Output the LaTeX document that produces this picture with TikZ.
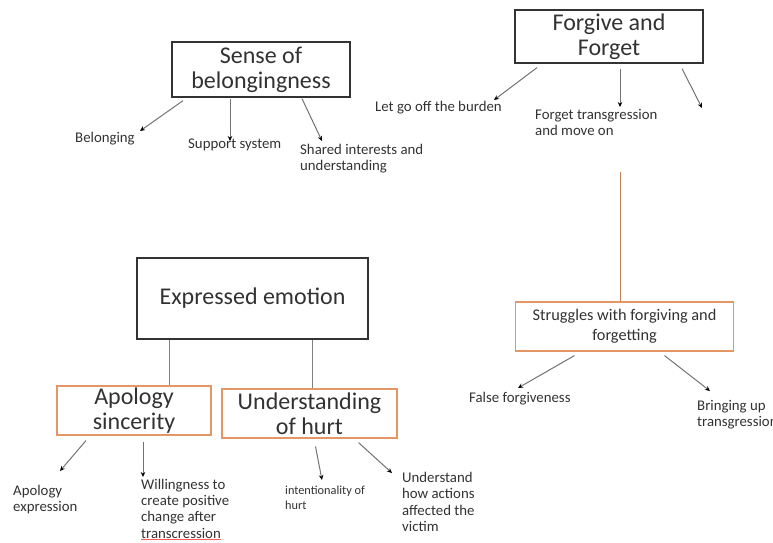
\documentclass[tikz,border=0pt]{standalone}
\usepackage{fontspec}
\setmainfont{Carlito}
\usetikzlibrary{arrows.meta}

\definecolor{boxorange}{RGB}{228,150,100}
\definecolor{textgray}{RGB}{50,50,50}
\newcommand{\spellmark}[1]{\begingroup\setbox0\hbox{#1}%
  \rlap{\color{red!65}\rule[-2pt]{\wd0}{0.7pt}}\box0\endgroup}

\begin{document}
\begin{tikzpicture}[x=1pt,y=-1pt]
\useasboundingbox (0,0) rectangle (773,542);
	\begin{scope}[every node/.style = {draw, line width=1.3pt, align=center, inner sep=0pt,
		text=textgray, font=\fontsize{24}{25}\selectfont}]
		\node[draw=black!80, minimum width=178pt, minimum height=55pt] (belong) at (261,69.5) {Sense of\\belongingness};
		\node[draw=black!80, minimum width=188pt, minimum height=53pt] (forgive) at (609,36.5) {Forgive and\\Forget};
		\node[draw=black!80, minimum width=231pt, minimum height=81pt] (expr) at (252.5,298.5) {Expressed emotion};
		\node[draw=boxorange, line width=1.1pt, minimum width=154pt, minimum height=49pt] (apol) at (134,410.5) {Apology\\sincerity};
		\node[draw=boxorange, line width=1.1pt, minimum width=175pt, minimum height=49pt] (hurt) at (309.5,413.5) {Understanding\\of hurt};
		\node[draw=boxorange, line width=1.1pt, minimum width=218pt, minimum height=49pt,
			font=\fontsize{16.3}{20}\selectfont] (strug) at (624.5,326.5) {Struggles with forgiving and\\forgetting};
	\end{scope}
	\begin{scope}[every node/.style = {anchor=north west, align=left, inner sep=0pt,
		text=textgray, font=\fontsize{14.8}{16.5}\selectfont}]
		\node (bel) at (75,132) {Belonging};
		\node (supp) at (188,139) {Support system};
		\node (shared) at (300,144) {Shared interests and\\understanding};
		\node (letgo) at (375,101) {Let go off the burden};
		\node (moveon) at (535,109) {Forget transgression\\and move on};
		\node (falsef) at (469,392) {False forgiveness};
		\node (bring) at (697,400) {Bringing up\\transgression};
		\node (apexp) at (13,485) {Apology\\expression};
		\node[font=\fontsize{14.8}{16.2}\selectfont] (willing) at (141,479) {Willingness to\\create positive\\change after\\\spellmark{transcression}};
		\node[font=\fontsize{12.3}{15}\selectfont] (intent) at (285,486) {intentionality of\\hurt};
		\node (howact) at (402,472) {Understand\\how actions\\affected the\\victim};
	\end{scope}
	% arrow tips
	\coordinate (tbel) at (140,131);
	\coordinate (tsupp) at (230,141);
	\coordinate (tshared) at (322,141);
	\coordinate (tletgo) at (494,100);
	\coordinate (tmoveon) at (620,107);
	\coordinate (tempty) at (702,108);
	\coordinate (tfalse) at (518,388);
	\coordinate (tbring) at (710,391);
	\coordinate (tapexp) at (60,471);
	\coordinate (twilling) at (143,477);
	\coordinate (tintent) at (322,480);
	\coordinate (thowact) at (392,473);
	\coordinate (ctop) at (620,172);
	\begin{scope}[>={Stealth[black, length=5pt, width=4.5pt]},
			every edge/.style={draw=black!55, line width=1pt}]
		\path [->] ([xshift=-78pt,yshift=-3pt]belong.south) edge (tbel);
		\path [->] ([xshift=-31pt,yshift=-1pt]belong.south) edge (tsupp);
		\path [->] ([xshift=41pt,yshift=-1pt]belong.south) edge (tshared);
		\path [->] ([xshift=-72pt,yshift=-4pt]forgive.south) edge (tletgo);
		\path [->] ([xshift=11pt,yshift=-5pt]forgive.south) edge (tmoveon);
		\path [->] ([xshift=73pt,yshift=-5pt]forgive.south) edge (tempty);
		\path [->] ([xshift=-50pt,yshift=-4pt]strug.south) edge (tfalse);
		\path [->] ([xshift=40pt,yshift=-4pt]strug.south) edge (tbring);
		\path [->] ([xshift=-48pt,yshift=-5pt]apol.south) edge (tapexp);
		\path [->] ([xshift=9pt,yshift=-6pt]apol.south) edge (twilling);
		\path [->] ([xshift=6pt,yshift=-8pt]hurt.south) edge (tintent);
		\path [->] ([xshift=49pt,yshift=-4pt]hurt.south) edge (thowact);
	\end{scope}
	\draw[black!50, line width=1pt] ([xshift=-83.5pt]expr.south) -- ([xshift=35pt]apol.north);
	\draw[black!50, line width=1pt] ([xshift=59.5pt]expr.south) -- ([xshift=2.5pt]hurt.north);
	\draw[boxorange!85!black, line width=1pt] (ctop) -- ([xshift=-4.5pt]strug.north);
\end{tikzpicture}
\end{document}
